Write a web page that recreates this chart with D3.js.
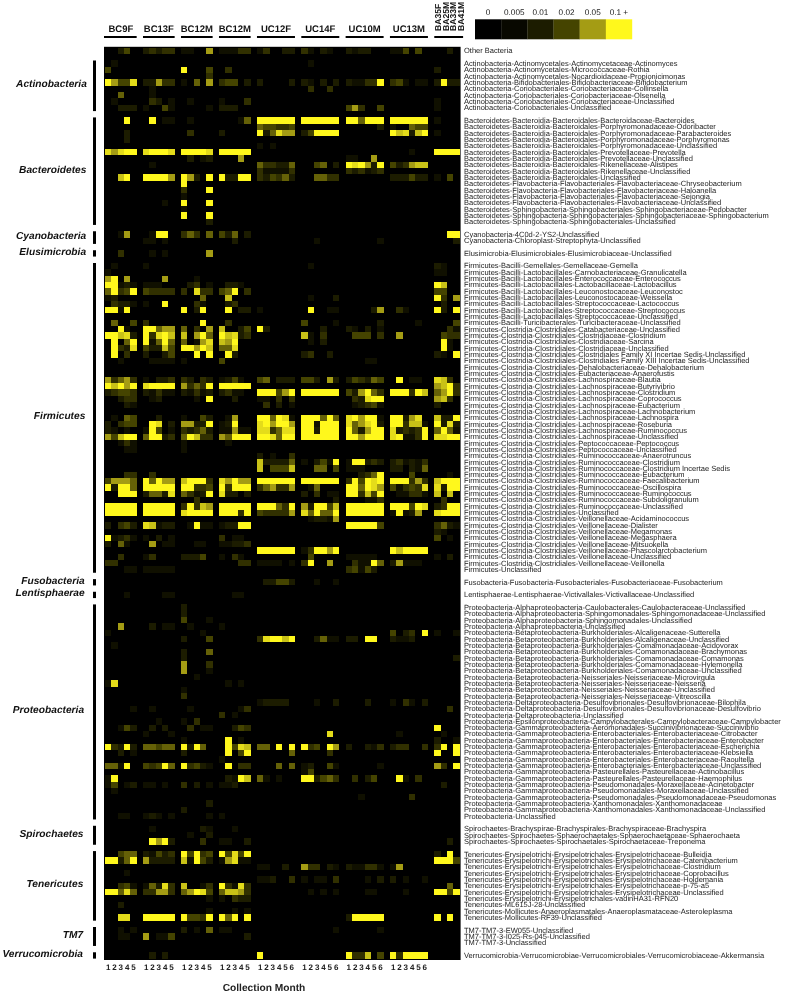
<!DOCTYPE html>
<html>
<head>
<meta charset="utf-8">
<title>Collection Month heatmap</title>
<script src="https://cdn.jsdelivr.net/npm/d3@7"></script>
<style>
  html, body { margin: 0; padding: 0; background: #fff; }
  svg { display: block; font-family: "Liberation Sans", Arial, sans-serif; text-rendering: geometricPrecision; }
</style>
</head>
<body>
<div id="container"></div>
<script>
const width = 787;
const height = 994;

// heat levels: each digit in a row below is an index into this list
const cellLevels = [0, 0.007, 0.01, 0.015, 0.02, 0.03, 0.05, 0.07, 0.085, 0.1];

const legendTicks = [0, 0.005, 0.01, 0.02, 0.05, 0.1];
const legendLabels = ["0", "0.005", "0.01", "0.02", "0.05", "0.1 +"];
const legendColors = ["#000000", "#080800", "#1c1c00", "#454400", "#a49c14", "#fff81c"];

const subjects = ["BC9F", "BC13F", "BC12M", "BC12M", "UC12F", "UC14F", "UC10M", "UC13M", "BA"];
const subjectMonths = [5, 5, 5, 5, 6, 6, 6, 6, 4];
const baSubjects = ["BA35F", "BA25M", "BA33M", "BA41M"];

const otherTaxa = ["Other Bacteria"];
const otherCells = [
  "00240 23233 11006 11133 130022 310210 212200 114040 0020"
];

const actinoTaxa = [
  "Actinobacteria-Actinomycetales-Actinomycetaceae-Actinomyces",
  "Actinobacteria-Actinomycetales-Micrococcaceae-Rothia",
  "Actinobacteria-Actinomycetales-Nocardioidaceae-Propionicimonas",
  "Actinobacteria-Bifidobacteriales-Bifidobacteriaceae-Bifidobacterium",
  "Actinobacteria-Coriobacteriales-Coriobacteriaceae-Collinsella",
  "Actinobacteria-Coriobacteriales-Coriobacteriaceae-Olsenella",
  "Actinobacteria-Coriobacteriales-Coriobacteriaceae-Unclassified",
  "Actinobacteria-Coriobacteriales-Unclassified"
];
const actinoCells = [
  "01000 00000 00000 00000 000000 010000 000000 000000 0000",
  "40000 00000 90004 03000 000000 000000 000000 000000 2000",
  "00000 00000 00003 00000 000000 000000 000000 000000 0000",
  "96448 22633 10506 34402 200002 210202 211339 341011 2922",
  "00000 01000 00000 00000 000000 030030 000000 000000 0000",
  "00500 01000 00000 00000 000000 000000 000000 000000 0000",
  "01000 03201 01000 10003 000000 000000 000000 000000 1000",
  "00222 10041 00001 22200 000000 000000 463004 000000 1000"
];

const bacteroTaxa = [
  "Bacteroidetes-Bacteroidia-Bacteroidales-Bacteroidaceae-Bacteroides",
  "Bacteroidetes-Bacteroidia-Bacteroidales-Porphyromonadaceae-Odoribacter",
  "Bacteroidetes-Bacteroidia-Bacteroidales-Porphyromonadaceae-Parabacteroides",
  "Bacteroidetes-Bacteroidia-Bacteroidales-Porphyromonadaceae-Porphyromonas",
  "Bacteroidetes-Bacteroidia-Bacteroidales-Porphyromonadaceae-Unclassified",
  "Bacteroidetes-Bacteroidia-Bacteroidales-Prevotellaceae-Prevotella",
  "Bacteroidetes-Bacteroidia-Bacteroidales-Prevotellaceae-Unclassified",
  "Bacteroidetes-Bacteroidia-Bacteroidales-Rikenellaceae-Alistipes",
  "Bacteroidetes-Bacteroidia-Bacteroidales-Rikenellaceae-Unclassified",
  "Bacteroidetes-Bacteroidia-Bacteroidales-Unclassified",
  "Bacteroidetes-Flavobacteria-Flavobacteriales-Flavobacteriaceae-Chryseobacterium",
  "Bacteroidetes-Flavobacteria-Flavobacteriales-Flavobacteriaceae-Haloanella",
  "Bacteroidetes-Flavobacteria-Flavobacteriales-Flavobacteriaceae-Sejongia",
  "Bacteroidetes-Flavobacteria-Flavobacteriales-Flavobacteriaceae-Unclassified",
  "Bacteroidetes-Sphingobacteria-Sphingobacteriales-Sphingobacteriaceae-Pedobacter",
  "Bacteroidetes-Sphingobacteria-Sphingobacteriales-Sphingobacteriaceae-Sphingobacterium",
  "Bacteroidetes-Sphingobacteria-Sphingobacteriales-Unclassified"
];
const bacteroCells = [
  "00090 09011 01000 00015 999999 999999 995999 999999 1000",
  "00000 00000 00000 00000 544334 000000 000002 100544 0000",
  "00020 00000 03000 20000 925866 249999 000000 978279 1000",
  "00020 00000 00000 00000 000000 000000 000000 000000 0000",
  "00000 00000 00000 00000 101000 000000 000000 000000 0000",
  "86899 89998 99998 99999 000000 000000 000000 000100 9999",
  "00000 00000 02012 00060 000000 000000 110060 000000 0000",
  "00000 01000 00000 00000 533225 004502 989629 423677 0000",
  "00000 00000 00000 00000 311113 000000 323123 000000 0000",
  "00790 99996 96209 92299 324352 005533 000000 222422 1040",
  "00000 00000 90000 00000 000000 000000 000000 000000 0000",
  "00000 00000 30009 00000 000000 000000 000000 000000 0000",
  "00000 00000 10000 00000 000000 000000 000000 000000 0000",
  "00000 00010 90009 00000 000000 000000 000000 000000 0000",
  "00000 00000 10000 00000 000000 000000 000000 000000 0000",
  "00000 00000 90009 00000 000000 000000 000000 000000 0000",
  "00000 00000 00002 00000 000000 000000 000000 000000 0000"
];

const cyanoTaxa = [
  "Cyanobacteria-4C0d-2-YS2-Unclassified",
  "Cyanobacteria-Chloroplast-Streptophyta-Unclassified"
];
const cyanoCells = [
  "00160 01990 35305 42502 000000 000000 000000 000000 0099",
  "00000 11010 00000 00200 000000 001000 000001 000000 0002"
];

const elusiTaxa = ["Elusimicrobia-Elusimicrobiales-Elusimicrobiaceae-Unclassified"];
const elusiCells = [
  "00300 01010 00006 00000 000000 000000 000000 000000 0000"
];

const firmiTaxa = [
  "Firmicutes-Bacilli-Gemellales-Gemellaceae-Gemella",
  "Firmicutes-Bacilli-Lactobacillales-Carnobacteriaceae-Granulicatella",
  "Firmicutes-Bacilli-Lactobacillales-Enterococcaceae-Enterococcus",
  "Firmicutes-Bacilli-Lactobacillales-Lactobacillaceae-Lactobacillus",
  "Firmicutes-Bacilli-Lactobacillales-Leuconostocaceae-Leuconostoc",
  "Firmicutes-Bacilli-Lactobacillales-Leuconostocaceae-Weissella",
  "Firmicutes-Bacilli-Lactobacillales-Streptococcaceae-Lactococcus",
  "Firmicutes-Bacilli-Lactobacillales-Streptococcaceae-Streptococcus",
  "Firmicutes-Bacilli-Lactobacillales-Streptococcaceae-Unclassified",
  "Firmicutes-Bacilli-Turicibacterales-Turicibacteraceae-Unclassified",
  "Firmicutes-Clostridia-Clostridiales-Catabacteriaceae-Unclassified",
  "Firmicutes-Clostridia-Clostridiales-Clostridiaceae-Clostridium",
  "Firmicutes-Clostridia-Clostridiales-Clostridiaceae-Sarcina",
  "Firmicutes-Clostridia-Clostridiales-Clostridiaceae-Unclassified",
  "Firmicutes-Clostridia-Clostridiales-Clostridiales Family XI Incertae Sedis-Unclassified",
  "Firmicutes-Clostridia-Clostridiales-Clostridiales Family XIII Incertae Sedis-Unclassified",
  "Firmicutes-Clostridia-Clostridiales-Dehalobacteriaceae-Dehalobacterium",
  "Firmicutes-Clostridia-Clostridiales-Eubacteriaceae-Anaerofustis",
  "Firmicutes-Clostridia-Clostridiales-Lachnospiraceae-Blautia",
  "Firmicutes-Clostridia-Clostridiales-Lachnospiraceae-Butyrivibrio",
  "Firmicutes-Clostridia-Clostridiales-Lachnospiraceae-Clostridium",
  "Firmicutes-Clostridia-Clostridiales-Lachnospiraceae-Coprococcus",
  "Firmicutes-Clostridia-Clostridiales-Lachnospiraceae-Eubacterium",
  "Firmicutes-Clostridia-Clostridiales-Lachnospiraceae-Lachnobacterium",
  "Firmicutes-Clostridia-Clostridiales-Lachnospiraceae-Lachnospira",
  "Firmicutes-Clostridia-Clostridiales-Lachnospiraceae-Roseburia",
  "Firmicutes-Clostridia-Clostridiales-Lachnospiraceae-Ruminococcus",
  "Firmicutes-Clostridia-Clostridiales-Lachnospiraceae-Unclassified",
  "Firmicutes-Clostridia-Clostridiales-Peptococcaceae-Peptococcus",
  "Firmicutes-Clostridia-Clostridiales-Peptococcaceae-Unclassified",
  "Firmicutes-Clostridia-Clostridiales-Ruminococcaceae-Anaerotruncus",
  "Firmicutes-Clostridia-Clostridiales-Ruminococcaceae-Clostridium",
  "Firmicutes-Clostridia-Clostridiales-Ruminococcaceae-Clostridium Incertae Sedis",
  "Firmicutes-Clostridia-Clostridiales-Ruminococcaceae-Eubacterium",
  "Firmicutes-Clostridia-Clostridiales-Ruminococcaceae-Faecalibacterium",
  "Firmicutes-Clostridia-Clostridiales-Ruminococcaceae-Oscillospira",
  "Firmicutes-Clostridia-Clostridiales-Ruminococcaceae-Ruminococcus",
  "Firmicutes-Clostridia-Clostridiales-Ruminococcaceae-Subdoligranulum",
  "Firmicutes-Clostridia-Clostridiales-Ruminococcaceae-Unclassified",
  "Firmicutes-Clostridia-Clostridiales-Unclassified",
  "Firmicutes-Clostridia-Clostridiales-Veillonellaceae-Acidaminococcus",
  "Firmicutes-Clostridia-Clostridiales-Veillonellaceae-Dialister",
  "Firmicutes-Clostridia-Clostridiales-Veillonellaceae-Megamonas",
  "Firmicutes-Clostridia-Clostridiales-Veillonellaceae-Megasphaera",
  "Firmicutes-Clostridia-Clostridiales-Veillonellaceae-Mitsuokella",
  "Firmicutes-Clostridia-Clostridiales-Veillonellaceae-Phascolarctobacterium",
  "Firmicutes-Clostridia-Clostridiales-Veillonellaceae-Unclassified",
  "Firmicutes-Clostridia-Clostridiales-Veillonellaceae-Veillonella",
  "Firmicutes-Unclassified"
];
const firmiCells = [
  "01000 10000 00000 00000 000000 010000 000000 000000 2100",
  "10000 00000 00000 00000 000000 000000 000000 000000 1100",
  "69060 00060 00100 00000 000000 000000 000000 000000 0000",
  "99121 11100 02301 02210 000000 000000 000000 000000 9700",
  "59349 43333 30833 45903 000000 000000 000000 000000 4400",
  "12000 00000 00050 07000 000000 010002 000000 000000 9306",
  "03221 10090 00310 02300 000000 000000 000000 000000 0200",
  "99190 00000 90290 09022 100000 090011 000026 031000 9209",
  "00000 00000 00000 00000 000000 000000 000000 000000 0000",
  "05004 30000 00090 03000 000000 400001 000002 000010 0004",
  "00910 99566 50306 70024 920000 000200 210201 000000 0031",
  "99782 93897 70695 97823 000000 710300 044403 060000 0433",
  "09059 91595 50168 76900 000000 010200 000000 000000 0910",
  "09328 42274 99697 55800 000000 000000 000000 000000 0910",
  "09030 20024 00909 09200 000000 230020 000000 000000 2109",
  "00100 01111 10000 40000 000000 000000 000110 000000 0000",
  "00000 00000 00000 00000 000000 000000 000000 000000 0000",
  "00000 00000 00000 00000 000000 000000 000000 000000 0000",
  "63563 10223 32032 12410 450222 442062 243254 090110 8730",
  "97969 89999 63539 99999 000000 000000 000000 000000 6793",
  "23443 21311 21312 23110 999469 999999 426953 999397 5693",
  "00233 01200 00109 00200 110303 000000 032899 000000 6730",
  "00021 00000 00000 00000 030201 000000 012341 000000 2000",
  "00000 00000 00000 00000 000000 000000 000000 000000 0000",
  "01054 00200 10042 01600 995981 999595 896991 992680 7229",
  "20344 09802 66229 12900 896996 991999 856892 993771 9282",
  "21010 19401 32352 11611 883588 992999 952699 823239 5951",
  "64799 59923 59733 65999 998599 999999 996999 891139 8899",
  "00131 00000 10000 01000 000000 000000 000000 000000 0000",
  "00011 00000 10000 00000 000000 000000 000000 000000 0000",
  "00000 00000 00000 00000 201003 000000 000000 000000 0000",
  "00000 00000 00000 00000 722225 102419 199232 231213 0000",
  "00000 00000 00000 00000 704447 005504 111000 220215 0000",
  "00033 03000 00000 00000 000000 000000 002359 000400 0010",
  "46665 95966 79993 86966 999999 999999 394989 999363 7999",
  "92995 99999 99334 93999 356336 015000 995986 413438 8299",
  "00999 25528 53129 82202 000000 203011 993749 011331 7070",
  "00000 00000 00300 00000 000000 000002 000113 000000 0300",
  "99999 99999 39376 99999 999539 629947 999999 999498 2399",
  "99999 99999 89999 99939 433336 859559 999999 191260 8999",
  "00000 00000 00000 00000 000000 012216 000000 000000 0000",
  "20342 87122 01911 12299 000000 000000 999994 000000 3521",
  "00000 00000 00000 00000 000000 000000 000000 000000 2100",
  "91231 10201 00000 30110 000000 000000 000000 000000 4010",
  "20510 06011 00110 11223 000000 000000 000000 000000 0000",
  "00000 00000 00000 00000 999999 139969 000000 979999 0000",
  "00300 13000 22240 10310 000000 040000 111110 000000 1020",
  "33000 00000 00000 00033 111101 390060 031195 261110 0000",
  "00011 11111 00000 00000 000000 000000 341420 000000 0000"
];

const fusoTaxa = ["Fusobacteria-Fusobacteria-Fusobacteriales-Fusobacteriaceae-Fusobacterium"];
const fusoCells = [
  "00000 00000 00000 00000 022442 001001 000000 000000 0000"
];

const lentiTaxa = ["Lentisphaerae-Lentisphaerae-Victivallales-Victivallaceae-Unclassified"];
const lentiCells = [
  "00010 00011 00000 00110 000000 000000 000000 000000 0000"
];

const proteoTaxa = [
  "Proteobacteria-Alphaproteobacteria-Caulobacterales-Caulobacteraceae-Unclassified",
  "Proteobacteria-Alphaproteobacteria-Sphingomonadales-Sphingomonadaceae-Unclassified",
  "Proteobacteria-Alphaproteobacteria-Sphingomonadales-Unclassified",
  "Proteobacteria-Alphaproteobacteria-Unclassified",
  "Proteobacteria-Betaproteobacteria-Burkholderiales-Alcaligenaceae-Sutterella",
  "Proteobacteria-Betaproteobacteria-Burkholderiales-Alcaligenaceae-Unclassified",
  "Proteobacteria-Betaproteobacteria-Burkholderiales-Comamonadaceae-Acidovorax",
  "Proteobacteria-Betaproteobacteria-Burkholderiales-Comamonadaceae-Brachymonas",
  "Proteobacteria-Betaproteobacteria-Burkholderiales-Comamonadaceae-Comamonas",
  "Proteobacteria-Betaproteobacteria-Burkholderiales-Comamonadaceae-Hylemonella",
  "Proteobacteria-Betaproteobacteria-Burkholderiales-Comamonadaceae-Unclassified",
  "Proteobacteria-Betaproteobacteria-Neisseriales-Neisseriaceae-Microvirgula",
  "Proteobacteria-Betaproteobacteria-Neisseriales-Neisseriaceae-Neisseria",
  "Proteobacteria-Betaproteobacteria-Neisseriales-Neisseriaceae-Unclassified",
  "Proteobacteria-Betaproteobacteria-Neisseriales-Neisseriaceae-Vitreoscilla",
  "Proteobacteria-Deltaproteobacteria-Desulfovibrionales-Desulfovibrionaceae-Bilophila",
  "Proteobacteria-Deltaproteobacteria-Desulfovibrionales-Desulfovibrionaceae-Desulfovibrio",
  "Proteobacteria-Deltaproteobacteria-Unclassified",
  "Proteobacteria-Epsilonproteobacteria-Campylobacterales-Campylobacteraceae-Campylobacter",
  "Proteobacteria-Gammaproteobacteria-Aeromonadales-Succinivibrionaceae-Succinivibrio",
  "Proteobacteria-Gammaproteobacteria-Enterobacteriales-Enterobacteriaceae-Citrobacter",
  "Proteobacteria-Gammaproteobacteria-Enterobacteriales-Enterobacteriaceae-Enterobacter",
  "Proteobacteria-Gammaproteobacteria-Enterobacteriales-Enterobacteriaceae-Escherichia",
  "Proteobacteria-Gammaproteobacteria-Enterobacteriales-Enterobacteriaceae-Klebsiella",
  "Proteobacteria-Gammaproteobacteria-Enterobacteriales-Enterobacteriaceae-Raoultella",
  "Proteobacteria-Gammaproteobacteria-Enterobacteriales-Enterobacteriaceae-Unclassified",
  "Proteobacteria-Gammaproteobacteria-Pasteurellales-Pasteurellaceae-Actinobacillus",
  "Proteobacteria-Gammaproteobacteria-Pasteurellales-Pasteurellaceae-Haemophilus",
  "Proteobacteria-Gammaproteobacteria-Pseudomonadales-Moraxellaceae-Acinetobacter",
  "Proteobacteria-Gammaproteobacteria-Pseudomonadales-Moraxellaceae-Unclassified",
  "Proteobacteria-Gammaproteobacteria-Pseudomonadales-Pseudomonadaceae-Pseudomonas",
  "Proteobacteria-Gammaproteobacteria-Xanthomonadales-Xanthomonadaceae",
  "Proteobacteria-Gammaproteobacteria-Xanthomonadales-Xanthomonadaceae-Unclassified",
  "Proteobacteria-Unclassified"
];
const proteoCells = [
  "00000 00000 20000 00000 000000 000000 000000 000000 0000",
  "00000 00000 20000 00000 000000 000000 000000 000000 0000",
  "00000 00000 40001 00000 000000 000000 000000 000000 0000",
  "00600 02011 01000 10000 000000 000000 000000 000000 0000",
  "10000 00000 00010 00000 000000 000000 000000 402309 1001",
  "00000 00000 20004 00000 389979 002511 220990 211200 0000",
  "01000 00000 00000 00000 000000 000000 000000 000000 0000",
  "00000 00000 20005 00000 000000 000000 000000 000000 0000",
  "00000 00000 20000 00000 000000 000000 000000 000000 0002",
  "00000 00000 60003 00000 000000 000000 000000 000000 0000",
  "00000 00000 60001 00000 000000 000000 000000 000000 0000",
  "00000 00000 00100 00000 000000 000000 000000 000000 0000",
  "18000 00000 00000 01010 000000 000000 000000 000000 0000",
  "00000 00000 10000 00000 000000 000000 000000 000000 0000",
  "00000 00000 30000 00000 000000 000000 000000 000000 0000",
  "00000 00000 00000 00000 122220 001002 000200 103102 0000",
  "00001 01000 01000 00013 000000 000000 000000 000000 0030",
  "00000 00000 00000 30100 000000 000000 000000 000000 0000",
  "00000 00100 10300 00000 000000 000000 000000 000000 0000",
  "00142 02020 03011 00243 000000 000000 000000 000000 9000",
  "00000 10001 00000 00000 000000 000080 000000 010000 0100",
  "00000 00000 10000 09010 000000 000000 000000 000000 2001",
  "93292 55455 92950 09487 550909 934096 200213 233003 3909",
  "00201 00000 20000 09049 000005 000030 000000 000000 9009",
  "00000 00000 00000 10000 000000 000000 000000 000000 0000",
  "55190 43495 93421 09033 000505 120041 000001 000000 6309",
  "00000 00000 00000 00000 000000 140000 000000 000000 0000",
  "19000 00000 00000 02197 510100 992453 030240 091030 0000",
  "14012 11010 30201 11200 000000 000000 000000 000000 0200",
  "01000 00000 00000 00000 000000 000000 000000 000000 0000",
  "00000 00000 00000 00000 000000 000000 001000 000300 0000",
  "00000 00000 00002 00000 000000 000000 000000 000000 0000",
  "00000 00000 20000 00000 000000 000000 000000 000000 0000",
  "00110 12101 00001 10000 000000 000000 000000 000000 0000"
];

const spiroTaxa = [
  "Spirochaetes-Brachyspirae-Brachyspirales-Brachyspiraceae-Brachyspira",
  "Spirochaetes-Spirochaetes-Sphaerochaetales-Sphaerochaetaceae-Sphaerochaeta",
  "Spirochaetes-Spirochaetes-Spirochaetales-Spirochaetaceae-Treponema"
];
const spiroCells = [
  "00000 01000 00021 00100 000000 000000 000000 000000 0000",
  "00000 00000 01002 00000 000000 000000 000000 000000 0000",
  "00000 09692 00030 11002 000000 000000 000000 000000 0020"
];

const teneriTaxa = [
  "Tenericutes-Erysipelotrichi-Erysipelotrichales-Erysipelotrichaceae-Bulleidia",
  "Tenericutes-Erysipelotrichi-Erysipelotrichales-Erysipelotrichaceae-Catenibacterium",
  "Tenericutes-Erysipelotrichi-Erysipelotrichales-Erysipelotrichaceae-Clostridium",
  "Tenericutes-Erysipelotrichi-Erysipelotrichales-Erysipelotrichaceae-Coprobacillus",
  "Tenericutes-Erysipelotrichi-Erysipelotrichales-Erysipelotrichaceae-Holdemania",
  "Tenericutes-Erysipelotrichi-Erysipelotrichales-Erysipelotrichaceae-p-75-a5",
  "Tenericutes-Erysipelotrichi-Erysipelotrichales-Erysipelotrichaceae-Unclassified",
  "Tenericutes-Erysipelotrichi-Erysipelotrichales-vadinHA31-RFN20",
  "Tenericutes-ML615J-28-Unclassified",
  "Tenericutes-Mollicutes-Anaeroplasmatales-Anaeroplasmataceae-Asteroleplasma",
  "Tenericutes-Mollicutes-RF39-Unclassified"
];
const teneriCells = [
  "00455 21423 94934 94849 000000 000000 000000 000000 2090",
  "99259 62222 71942 16811 000000 000000 000000 000000 9994",
  "00000 00000 00000 00000 110020 633021 211331 160000 0000",
  "00010 00000 00000 00000 000000 000000 000000 000000 0000",
  "00000 00000 00000 00000 112003 101103 000102 201001 0000",
  "00341 15283 70013 93183 000000 000000 000000 000000 0050",
  "99585 33663 56984 57763 000000 010101 000110 001000 9949",
  "00000 00000 00001 10322 000000 000000 000000 000000 0000",
  "00200 00000 00000 00000 000000 000000 000000 000000 0000",
  "00000 00000 00001 00101 000000 000000 000000 000000 0000",
  "00880 99999 94439 95909 000000 000000 299999 000000 9090"
];

const tm7Taxa = [
  "TM7-TM7-3-EW055-Unclassified",
  "TM7-TM7-3-I025-Rs-045-Unclassified",
  "TM7-TM7-3-Unclassified"
];
const tm7Cells = [
  "00101 00000 20105 11000 000000 000001 000001 000000 0000",
  "00110 60114 00000 00002 000000 000000 000000 000000 0000",
  "00000 00000 00000 00000 000000 000000 000000 000000 0000"
];

const verruTaxa = ["Verrucomicrobia-Verrucomicrobiae-Verrucomicrobiales-Verrucomicrobiaceae-Akkermansia"];
const verruCells = [
  "00000 02020 00000 00000 900000 000000 933704 939999 0000"
];

const groups = [
  { name: "", taxa: otherTaxa, cells: otherCells },
  { name: "Actinobacteria", taxa: actinoTaxa, cells: actinoCells },
  { name: "Bacteroidetes", taxa: bacteroTaxa, cells: bacteroCells },
  { name: "Cyanobacteria", taxa: cyanoTaxa, cells: cyanoCells },
  { name: "Elusimicrobia", taxa: elusiTaxa, cells: elusiCells },
  { name: "Firmicutes", taxa: firmiTaxa, cells: firmiCells },
  { name: "Fusobacteria", taxa: fusoTaxa, cells: fusoCells },
  { name: "Lentisphaerae", taxa: lentiTaxa, cells: lentiCells },
  { name: "Proteobacteria", taxa: proteoTaxa, cells: proteoCells },
  { name: "Spirochaetes", taxa: spiroTaxa, cells: spiroCells },
  { name: "Tenericutes", taxa: teneriTaxa, cells: teneriCells },
  { name: "TM7", taxa: tm7Taxa, cells: tm7Cells },
  { name: "Verrucomicrobia", taxa: verruTaxa, cells: verruCells }
];

// row and column domains keep one empty band between groups
const rowKeys = [];
const cells = [];
const colKeys = [];
const monthTicks = [];
subjects.forEach((s, i) => {
  d3.range(subjectMonths[i]).forEach(m => {
    colKeys.push(`${i}-${m}`);
    if (s !== "BA") monthTicks.push(`${i}-${m}`);
  });
  if (i < subjects.length - 1) colKeys.push(`gap-${i}`);
});
groups.forEach((g, gi) => {
  g.taxa.forEach((t, ti) => {
    const key = `${gi}-${ti}`;
    rowKeys.push(key);
    g.cells[ti].split(" ").forEach((part, si) => {
      part.split("").forEach((digit, m) => {
        cells.push({ row: key, col: `${si}-${m}`, value: cellLevels[+digit] });
      });
    });
  });
  if (gi < groups.length - 1) rowKeys.push(`gap-${gi}`);
});
const taxonByKey = new Map();
groups.forEach((g, gi) => g.taxa.forEach((t, ti) => taxonByKey.set(`${gi}-${ti}`, t)));

const x = d3.scaleBand().domain(colKeys).range([105, 459.6]);
const y = d3.scaleBand().domain(rowKeys).range([47.84, 958.6]);
const color = d3.scaleLinear().domain(legendTicks).range(legendColors).clamp(true);

const svg = d3.select("#container").append("svg")
  .attr("width", width)
  .attr("height", height);

svg.append("rect")
  .attr("x", 104)
  .attr("y", 46.8)
  .attr("width", 356.6)
  .attr("height", 913.2)
  .attr("fill", "#000");

svg.append("g")
  .attr("shape-rendering", "crispEdges")
  .style("filter", "blur(0.45px)")
  .selectAll("rect")
  .data(cells.filter(d => d.value > 0))
  .enter()
  .append("rect")
  .attr("x", d => x(d.col))
  .attr("y", d => y(d.row))
  .attr("width", x.bandwidth())
  .attr("height", y.bandwidth())
  .attr("fill", d => color(d.value));

// all text sits in one softly blurred layer, like the scanned original
const textLayer = svg.append("g").style("filter", "blur(0.25px)");

// taxon labels
const taxonAxis = textLayer.append("g")
  .attr("transform", "translate(461,0)")
  .call(d3.axisRight(y)
    .tickValues(rowKeys.filter(k => taxonByKey.has(k)))
    .tickSize(0)
    .tickPadding(3)
    .tickFormat(k => taxonByKey.get(k)));
taxonAxis.select(".domain").remove();
taxonAxis.selectAll("text")
  .attr("font-size", 7.5)
  .attr("fill", "#222")
  .attr("font-family", "'Liberation Sans', Arial, sans-serif");

// month ticks
const monthAxis = textLayer.append("g")
  .attr("transform", "translate(0,964)")
  .call(d3.axisBottom(x)
    .tickValues(monthTicks)
    .tickSize(0)
    .tickPadding(0)
    .tickFormat(k => +k.split("-")[1] + 1));
monthAxis.select(".domain").remove();
monthAxis.selectAll("text")
  .attr("font-size", 8)
  .attr("font-weight", "bold")
  .attr("fill", "#222")
  .attr("font-family", "'Liberation Sans', Arial, sans-serif");

textLayer.append("text")
  .attr("x", 264)
  .attr("y", 990.5)
  .attr("text-anchor", "middle")
  .attr("font-size", 10.2)
  .attr("font-weight", "bold")
  .attr("fill", "#222")
  .text("Collection Month");

// subject header bars and labels
subjects.forEach((s, i) => {
  const first = x(`${i}-0`);
  const last = x(`${i}-${subjectMonths[i] - 1}`) + x.bandwidth();
  const isBa = s === "BA";
  svg.append("line")
    .attr("x1", i === 0 ? first - 1 : first)
    .attr("x2", isBa ? last + 3.5 : last)
    .attr("y1", 37)
    .attr("y2", 37)
    .attr("stroke", "#000")
    .attr("stroke-width", 2);
  if (!isBa) {
    textLayer.append("text")
      .attr("x", (first + last) / 2)
      .attr("y", 32)
      .attr("text-anchor", "middle")
      .attr("font-size", 9.5)
      .attr("font-weight", "bold")
      .attr("fill", "#111")
      .text(s);
  }
});

const baLabelX = d3.scalePoint().domain(baSubjects).range([441, 464]);
textLayer.selectAll(".ba-label")
  .data(baSubjects)
  .enter()
  .append("text")
  .attr("class", "ba-label")
  .attr("transform", d => `translate(${baLabelX(d)},31) rotate(-90)`)
  .attr("font-size", 8.6)
  .attr("font-weight", "bold")
  .attr("fill", "#111")
  .text(d => d);

// phylum bars and labels
const phyla = groups.filter(g => g.name);
const labelRight = d3.scaleLinear().domain([47, 959]).range([87, 83]);
phyla.forEach(g => {
  const gi = groups.indexOf(g);
  const top = y(`${gi}-0`);
  const bottom = y(`${gi}-${g.taxa.length - 1}`) + y.bandwidth();
  svg.append("line")
    .attr("x1", 94.5)
    .attr("x2", 94.5)
    .attr("y1", top)
    .attr("y2", bottom)
    .attr("stroke", "#000")
    .attr("stroke-width", 3);
  const mid = (top + bottom) / 2;
  textLayer.append("text")
    .attr("x", labelRight(mid))
    .attr("y", mid + 1.5)
    .attr("text-anchor", "end")
    .attr("font-size", 10.2)
    .attr("font-weight", "bold")
    .attr("font-style", "italic")
    .attr("fill", "#111")
    .text(g.name);
});

// colour key
const legendX = d3.scaleBand().domain(legendLabels).range([475, 632]);
svg.append("g")
  .selectAll("rect")
  .data(legendLabels)
  .enter()
  .append("rect")
  .attr("x", d => legendX(d))
  .attr("y", 19.3)
  .attr("width", legendX.bandwidth() + 0.2)
  .attr("height", 20)
  .attr("fill", (d, i) => legendColors[i]);

const legendAxis = textLayer.append("g")
  .attr("transform", "translate(0,15)")
  .call(d3.axisTop(legendX).tickSize(0).tickPadding(0));
legendAxis.select(".domain").remove();
legendAxis.selectAll("text")
  .attr("font-size", 8.2)
  .attr("fill", "#222")
  .attr("font-family", "'Liberation Sans', Arial, sans-serif");
</script>
</body>
</html>
